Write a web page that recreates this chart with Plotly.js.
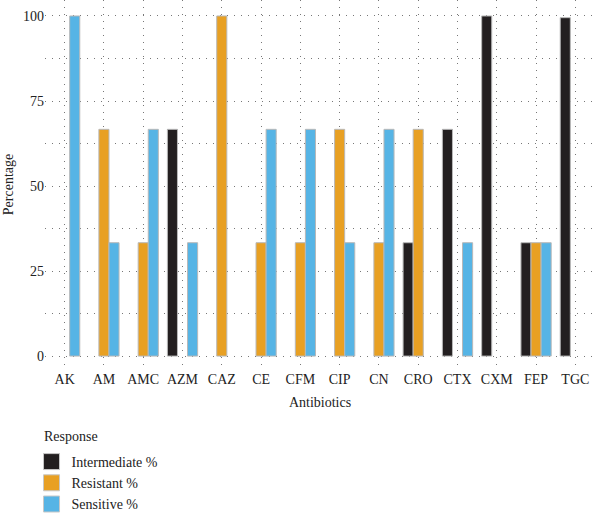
<!DOCTYPE html>
<html><head><meta charset="utf-8">
<script src="https://cdn.plot.ly/plotly-3.0.1.min.js"></script>
<style>body{margin:0;background:#fff}#chart{width:600px;height:515px}</style>
</head><body><div id="chart"></div>
<script>
var antibiotics = ["AK","AM","AMC","AZM","CAZ","CE","CFM","CIP","CN","CRO","CTX","CXM","FEP","TGC"];
var intermediate = [0,0,0,66.67,0,0,0,0,0,33.33,66.67,100,33.33,99.5];
var resistant    = [0,66.67,33.33,0,100,33.33,33.33,66.67,33.33,66.67,0,0,33.33,0];
var sensitive    = [100,33.33,66.67,33.33,0,66.67,66.67,33.33,66.67,0,33.33,0,33.33,0];
var seriesNames = ["Intermediate %","Resistant %","Sensitive %"];
var colors = ["#231f20","#e8a023","#56b4e5"];
var values = [intermediate, resistant, sensitive];
var serif = "Liberation Serif, Times New Roman, serif";
var traces = [];
for (var i=0;i<3;i++){
  traces.push({type:"bar", x:antibiotics, y:values[i], name:seriesNames[i], showlegend:false,
    marker:{color:colors[i], line:{color:"#b8b8b8", width:values[i].map(function(v){return v>0?1:0;})}},
    hoverinfo:"x+y"});
}
for (var j=0;j<3;j++){
  traces.push({type:"scatter", mode:"markers", x:[null], y:[null], name:seriesNames[j],
    marker:{symbol:"square", size:16, color:colors[j], line:{color:"#c8c8c8", width:1}}});
}
var layout = {
  width:600, height:515,
  margin:{l:45, r:5, t:0, b:146},
  paper_bgcolor:"#fff", plot_bgcolor:"#fff",
  font:{family:serif, size:14, color:"#222"},
  barmode:"group", bargap:0.23, bargroupgap:0,
  xaxis:{type:"category", showgrid:true, gridcolor:"#777", griddash:"1px,6px", gridwidth:1,
    showline:false, ticks:"", zeroline:false, automargin:false,
    tickfont:{family:serif,size:14,color:"#222"},
    title:{text:"Antibiotics", font:{family:serif,size:14,color:"#222"}, standoff:11}},
  yaxis:{range:[-3.8,104.7], tickvals:[0,25,50,75,100], showgrid:true, gridcolor:"#777",
    griddash:"1px,6px", gridwidth:1, zeroline:false, showline:false, ticks:"", automargin:false,
    minor:{tickvals:[12.5,37.5,62.5,87.5], showgrid:true, gridcolor:"#777", griddash:"1px,6px", gridwidth:1},
    tickfont:{family:serif,size:14,color:"#222"},
    title:{text:"Percentage", font:{family:serif,size:14,color:"#222"}, standoff:6}},
  legend:{orientation:"v", x:-0.0245, xanchor:"left", xref:"paper", yref:"container", y:1-446/515, yanchor:"top",
    font:{family:serif,size:14,color:"#222"}, tracegroupgap:0, itemwidth:30, bgcolor:"rgba(0,0,0,0)"},
  annotations:[{text:"Response", xref:"paper", yref:"paper", x:-3/550, y:1-436/369,
    xanchor:"left", yanchor:"middle", showarrow:false, font:{family:serif,size:14,color:"#222"}}]
};
Plotly.newPlot("chart", traces, layout, {displayModeBar:false, staticPlot:true});
</script></body></html>
